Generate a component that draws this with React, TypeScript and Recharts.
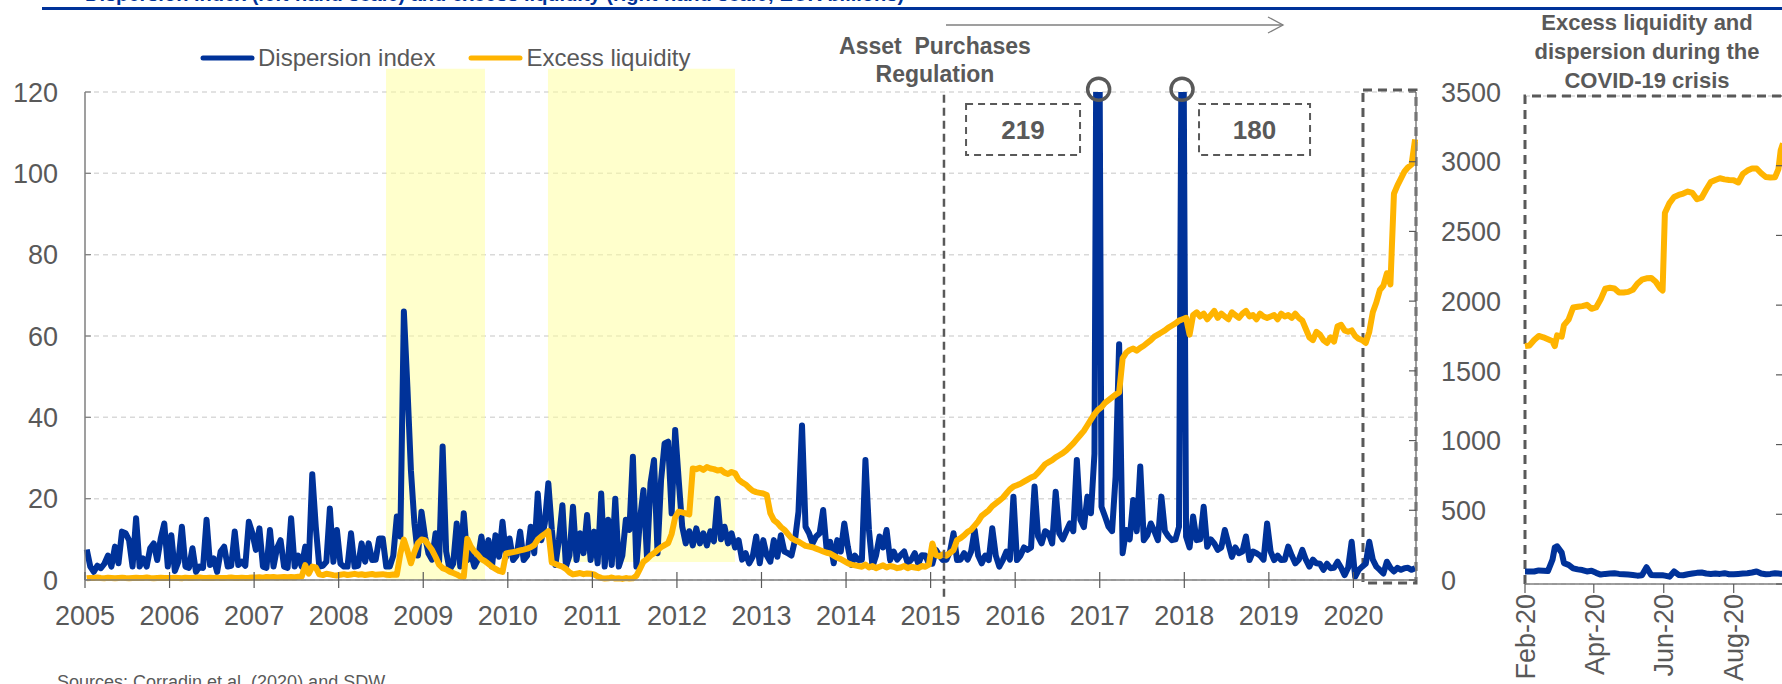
import React from 'react';
import {
  LineChart, Line, XAxis, YAxis, CartesianGrid, ReferenceArea, ReferenceLine, ReferenceDot,
} from 'recharts';

const FONT = "'Liberation Sans', Arial, Helvetica, sans-serif";
const GREY = '#595959';
const AXIS = '#7f7f7f';
const BLUE = '#003299';
const GOLD = '#FFB400';

// semi-monthly readings: slot i of a year sits at year + (i + 0.5) / 24
const disp2005 = [7.5, 3.3, 2.0, 3.5, 2.9, 4.0, 6.0, 3.3, 8.2, 4.1, 11.9, 11.5, 9.8, 3.3, 15.2, 3.3, 5.3, 3.3, 7.8, 9.0, 4.9, 10.2, 13.9, 3.3];
const disp2006 = [11.0, 2.2, 4.5, 13.1, 3.3, 3.0, 7.8, 2.0, 3.3, 3.0, 14.8, 3.7, 5.3, 2.0, 7.0, 8.2, 3.3, 3.5, 11.9, 3.7, 4.5, 3.5, 14.3, 11.5];
const disp2007 = [7.4, 12.7, 3.3, 3.0, 12.3, 3.3, 7.8, 9.8, 3.3, 3.0, 15.2, 3.3, 6.0, 3.3, 8.2, 4.0, 26.0, 13.1, 3.3, 3.5, 4.5, 17.6, 4.5, 12.3];
const disp2008 = [4.0, 3.3, 3.3, 11.5, 3.3, 3.5, 9.0, 4.5, 9.0, 4.9, 5.0, 10.2, 10.2, 3.3, 3.3, 6.0, 15.6, 10.7, 66.0, 47.5, 27.0, 13.9, 6.0, 16.8];
const disp2009 = [10.7, 6.5, 5.0, 11.5, 4.5, 32.8, 7.0, 2.5, 4.0, 13.9, 3.3, 16.4, 4.9, 6.6, 3.3, 5.0, 10.7, 4.9, 9.8, 3.3, 11.0, 5.7, 14.3, 5.7];
const disp2010 = [10.2, 4.9, 6.0, 11.9, 4.9, 6.0, 13.1, 6.6, 21.3, 9.8, 13.9, 23.8, 12.3, 3.7, 9.8, 18.4, 3.3, 6.0, 18.0, 4.9, 11.5, 6.6, 16.0, 4.9];
const disp2011 = [11.9, 4.1, 21.3, 3.3, 14.8, 3.7, 20.0, 3.3, 6.0, 14.8, 12.3, 30.3, 3.3, 14.8, 22.1, 5.7, 23.8, 29.5, 6.6, 24.6, 33.6, 34.0, 16.4, 36.9];
const disp2012 = [24.6, 13.1, 9.0, 12.0, 8.5, 12.7, 9.0, 11.5, 8.5, 12.0, 9.5, 20.0, 10.0, 13.1, 9.0, 11.5, 8.0, 9.8, 5.0, 6.6, 4.1, 5.7, 10.7, 4.1];
const disp2013 = [9.8, 6.0, 4.5, 9.8, 5.7, 11.0, 7.0, 6.6, 6.0, 9.8, 16.8, 38.0, 13.1, 11.5, 9.0, 10.7, 11.5, 17.2, 7.4, 9.4, 4.1, 9.8, 7.0, 13.9];
const disp2014 = [8.2, 3.7, 6.0, 4.9, 5.0, 29.5, 12.3, 3.3, 6.0, 10.7, 8.0, 12.3, 4.9, 7.0, 5.0, 6.1, 7.0, 4.1, 5.0, 6.6, 4.0, 6.1, 6.0, 4.1];
const disp2015 = [4.0, 7.4, 6.0, 4.9, 5.0, 7.0, 11.5, 4.9, 5.0, 6.6, 5.0, 7.0, 12.3, 6.0, 4.1, 6.0, 4.9, 12.7, 6.0, 3.3, 4.9, 7.0, 5.0, 20.5];
const disp2016 = [4.9, 6.0, 8.0, 7.4, 8.0, 23.0, 10.7, 9.0, 12.0, 11.5, 9.0, 21.7, 11.5, 10.0, 12.0, 13.9, 12.0, 29.5, 14.8, 13.0, 20.5, 16.4, 31.0, 219];
const disp2017 = [18.0, 15.6, 13.1, 12.0, 25.4, 58.0, 6.6, 12.3, 10.0, 19.7, 12.0, 27.9, 9.8, 11.0, 13.9, 12.0, 9.8, 20.5, 12.0, 10.7, 9.8, 10.0, 13.1, 180];
const disp2018 = [10.7, 8.0, 15.6, 9.8, 10.0, 18.0, 8.2, 10.0, 9.0, 7.4, 8.0, 12.3, 9.0, 5.7, 8.0, 6.6, 7.0, 10.7, 4.9, 7.0, 6.6, 6.0, 5.0, 13.9];
const disp2019 = [7.0, 4.9, 6.0, 4.9, 5.0, 8.2, 6.0, 4.1, 5.0, 7.4, 5.0, 3.3, 5.0, 4.1, 4.0, 2.5, 4.0, 2.9, 3.0, 4.5, 3.0, 1.2, 3.0, 9.4];
const disp2020 = [0.8, 2.5, 3.3, 4.0, 9.4, 5.0, 3.3, 2.5, 1.6, 4.5, 3.0, 2.1, 3.0, 2.5, 2.9, 3.0, 2.5, 2.9];

// excess liquidity, EUR bn, same slots
const ex2005 = [12, 15, 14, 18, 15, 13, 16, 14, 12, 15, 17, 14, 13, 15, 16, 14, 15, 18, 14, 13, 15, 16, 14, 15];
const ex2006 = [14, 16, 15, 13, 17, 15, 14, 16, 18, 15, 14, 16, 15, 17, 14, 15, 16, 18, 15, 14, 17, 15, 16, 18];
const ex2007 = [18, 20, 17, 22, 19, 21, 18, 20, 22, 19, 21, 20, 23, 25, 107, 45, 96, 90, 40, 35, 45, 40, 35, 32];
const ex2008 = [38, 42, 36, 40, 44, 38, 41, 36, 40, 43, 37, 40, 42, 38, 36, 40, 38, 190, 290, 210, 120, 200, 265, 290];
const ex2009 = [285, 250, 215, 165, 110, 85, 75, 60, 50, 40, 25, 22, 295, 240, 205, 180, 150, 135, 115, 95, 80, 65, 58, 190];
const ex2010 = [195, 200, 205, 212, 218, 225, 235, 250, 290, 312, 330, 350, 125, 115, 105, 96, 80, 55, 40, 45, 50, 42, 47, 45];
const ex2011 = [40, 25, 15, 10, 12, 18, 10, 12, 8, 14, 10, 12, 30, 80, 131, 150, 175, 192, 215, 235, 250, 265, 330, 450];
const ex2012 = [490, 485, 478, 470, 800, 795, 805, 790, 810, 800, 795, 785, 790, 770, 760, 775, 765, 720, 700, 685, 660, 640, 630, 625];
const ex2013 = [620, 610, 480, 430, 410, 380, 360, 330, 300, 285, 275, 260, 245, 240, 235, 225, 215, 205, 195, 190, 175, 160, 150, 135];
const ex2014 = [120, 110, 105, 100, 95, 110, 90, 100, 85, 95, 105, 90, 100, 95, 85, 90, 100, 85, 95, 90, 85, 100, 95, 110];
const ex2015 = [262, 180, 170, 185, 175, 195, 215, 286, 300, 320, 345, 360, 390, 420, 460, 480, 500, 530, 550, 570, 590, 620, 650, 670];
const ex2016 = [680, 690, 705, 720, 735, 745, 770, 800, 830, 845, 860, 880, 895, 910, 930, 955, 980, 1010, 1040, 1070, 1110, 1150, 1190, 1220];
const ex2017 = [1240, 1270, 1290, 1310, 1330, 1345, 1590, 1630, 1650, 1660, 1645, 1665, 1680, 1700, 1720, 1745, 1760, 1775, 1790, 1810, 1825, 1840, 1860, 1870];
const ex2018 = [1880, 1760, 1900, 1920, 1890, 1910, 1870, 1900, 1930, 1880, 1910, 1890, 1870, 1920, 1900, 1880, 1910, 1930, 1890, 1900, 1870, 1910, 1890, 1880];
const ex2019 = [1890, 1900, 1870, 1910, 1890, 1900, 1880, 1910, 1880, 1860, 1800, 1740, 1720, 1780, 1760, 1720, 1700, 1740, 1710, 1820, 1830, 1790, 1780, 1790];
const ex2020 = [1750, 1730, 1720, 1700, 1780, 1920, 1990, 2080, 2110, 2200, 2120, 2770, 2830, 2880, 2930, 2960, 2980, 3160];

const firstYear = 2005;
const dispersion = [disp2005, disp2006, disp2007, disp2008, disp2009, disp2010, disp2011, disp2012,
  disp2013, disp2014, disp2015, disp2016, disp2017, disp2018, disp2019, disp2020];
const excess = [ex2005, ex2006, ex2007, ex2008, ex2009, ex2010, ex2011, ex2012,
  ex2013, ex2014, ex2015, ex2016, ex2017, ex2018, ex2019, ex2020];

const yearTicks = [2005, 2006, 2007, 2008, 2009, 2010, 2011, 2012, 2013, 2014, 2015, 2016, 2017, 2018, 2019, 2020];
const leftTicks = [0, 20, 40, 60, 80, 100, 120];
const rightTicks = [0, 500, 1000, 1500, 2000, 2500, 3000, 3500];

// COVID inset, x = days from the Feb-20 tick
const insetDays = [0, 4, 8, 12, 16, 20, 24, 26, 28, 32, 34, 38, 42, 46, 50, 54, 58, 62, 66, 70,
  74, 78, 82, 86, 90, 94, 98, 102, 106, 110, 114, 118, 120, 122, 126, 130, 134, 138, 142, 146,
  150, 154, 158, 162, 166, 170, 174, 178, 182, 186, 190, 194, 198, 202, 206, 210, 214, 218, 221, 223, 225];
const insetExcess = [1755, 1760, 1800, 1830, 1820, 1805, 1790, 1755, 1834, 1825, 1910, 1950, 2040, 2045, 2050, 2060, 2030, 2040, 2100, 2178,
  2185, 2180, 2150, 2150, 2155, 2170, 2215, 2245, 2255, 2258, 2230, 2180, 2165, 2736, 2810, 2855, 2870, 2880, 2895, 2885,
  2838, 2850, 2910, 2965, 2980, 2993, 2985, 2980, 2978, 2962, 3025, 3050, 3065, 3065, 3030, 3002, 2998, 3000, 3060, 3200, 3250];
const insetDispersion = [3.6, 3.6, 3.6, 3.9, 3.8, 3.7, 7.0, 10.5, 10.8, 9.0, 6.0, 5.5, 4.5, 4.2, 4.0, 3.6, 3.8, 3.2, 2.7, 2.9,
  3.0, 3.1, 2.9, 2.8, 2.7, 2.6, 2.4, 2.5, 4.8, 2.6, 2.5, 2.5, 2.5, 2.4, 2.1, 3.6, 2.6, 2.5, 2.8, 3.0,
  3.2, 3.3, 3.0, 2.9, 3.0, 2.9, 3.1, 2.8, 2.8, 2.9, 3.0, 3.1, 3.3, 3.6, 3.0, 2.8, 2.9, 3.1, 3.0, 2.9, 3.0];
const insetTicks = [0, 60, 121, 182];
const insetTickLabels = ['Feb-20', 'Apr-20', 'Jun-20', 'Aug-20'];
const insetLeftTicks = [0, 600, 1200, 1800, 2400, 3000, 3600];
const insetRightTicks = [0, 20, 40, 60, 80, 100, 120, 140];

const mainData = dispersion.flatMap((row, k) =>
  row.map((v, i) => ({ t: firstYear + k + (i + 0.5) / 24, disp: v, excess: excess[k][i] })));
const insetData = insetDays.map((d, i) => ({ d, excess: insetExcess[i], disp: insetDispersion[i] }));

function YearTick({ x, y, payload }: any) {
  return (
    <g>
      <line x1={x} x2={x} y1={y - 8} y2={y + 8} stroke={GREY} strokeWidth={1.2} />
      <text x={x} y={y + 45} textAnchor="middle" fill={GREY} fontSize={27} fontFamily={FONT}>{payload.value}</text>
    </g>
  );
}

function LeftTick({ x, y, payload }: any) {
  return (
    <g>
      <line x1={x} x2={x + 6} y1={y} y2={y} stroke={AXIS} strokeWidth={1.2} />
      <text x={x - 27} y={y} dy="0.36em" textAnchor="end" fill={GREY} fontSize={27} fontFamily={FONT}>{payload.value}</text>
    </g>
  );
}

function RightTick({ x, y, payload }: any) {
  return (
    <g>
      <line x1={x - 7} x2={x} y1={y} y2={y} stroke={GREY} strokeWidth={1.2} />
      <text x={x + 25} y={y} dy="0.36em" textAnchor="start" fill={GREY} fontSize={27} fontFamily={FONT}>{payload.value}</text>
    </g>
  );
}

function InsetRightTick({ x, y }: any) {
  return <line x1={x - 7} x2={x} y1={y} y2={y} stroke={GREY} strokeWidth={1.2} />;
}

function MonthTick({ x, y, payload }: any) {
  const label = insetTickLabels[insetTicks.indexOf(payload.value)];
  return (
    <g>
      <line x1={x} x2={x} y1={y} y2={y + 9} stroke={GREY} strokeWidth={1.2} />
      <text transform={`rotate(-90 ${x} ${y + 10})`} x={x} y={y + 10} dy="0.36em" textAnchor="end"
        fill={GREY} fontSize={27} fontFamily={FONT}>{label}</text>
    </g>
  );
}

// only the top and left edges of the inset frame are dashed
const InsetFrame = (p: any) => (
  <path d={`M${p.x},${p.y + p.height} L${p.x},${p.y} L${p.x + p.width + 10},${p.y}`}
    fill="none" stroke={GREY} strokeWidth={3} strokeDasharray="9 6" />
);

const boxLabel = (value: string) => ({ value, position: 'center' as const, fill: GREY, fontSize: 26, fontWeight: 700, fontFamily: FONT });

export default function App() {
  return (
    <div style={{ position: 'fixed', left: 0, top: 0, width: 1782, height: 684, overflow: 'hidden', background: '#fff', fontFamily: FONT, color: GREY }}>
      <div style={{ position: 'absolute', left: 0, top: 0 }}>
        <LineChart width={1520} height={684} data={mainData} margin={{ top: 92, right: 0, bottom: 0, left: 0 }}>
          <XAxis dataKey="t" type="number" domain={[2005, 2020.74]} ticks={yearTicks} interval={0}
            height={104} tickSize={0} tickMargin={0} tickLine={false} tick={<YearTick />}
            axisLine={{ stroke: AXIS, strokeWidth: 1.5 }} />
          <YAxis yAxisId="left" domain={[0, 120]} ticks={leftTicks} interval={0} allowDataOverflow width={85}
            tickSize={0} tickMargin={0} tickLine={false} tick={<LeftTick />} axisLine={{ stroke: AXIS, strokeWidth: 1.5 }} />
          <YAxis yAxisId="right" orientation="right" domain={[0, 3500]} ticks={rightTicks} interval={0} width={104}
            tickSize={0} tickMargin={0} tickLine={false} tick={<RightTick />} axisLine={{ stroke: AXIS, strokeWidth: 1.5 }} />
          <ReferenceArea yAxisId="left" x1={2008.56} x2={2009.73} y1={0} y2={125.7} ifOverflow="visible"
            fill="#FFFF99" fillOpacity={0.5} stroke="none" />
          <ReferenceArea yAxisId="left" x1={2010.475} x2={2012.687} y1={4.4} y2={125.7} ifOverflow="visible"
            fill="#FFFF99" fillOpacity={0.5} stroke="none" />
          <CartesianGrid yAxisId="left" vertical={false} stroke="#d9d9d9" strokeDasharray="5 4" strokeWidth={1.5} />
          <Line yAxisId="left" dataKey="disp" stroke={BLUE} strokeWidth={6} dot={false} strokeLinejoin="round" isAnimationActive={false} />
          <Line yAxisId="right" dataKey="excess" stroke={GOLD} strokeWidth={6} dot={false} strokeLinejoin="round" isAnimationActive={false} />
          <ReferenceLine yAxisId="left" ifOverflow="visible" stroke={GREY} strokeWidth={2.5} strokeDasharray="8 5"
            segment={[{ x: 2015.158, y: 119.3 }, { x: 2015.158, y: -4.2 }]} />
          <ReferenceArea yAxisId="left" x1={2015.419} x2={2016.767} y1={104.5} y2={117.05} ifOverflow="visible"
            fill="none" stroke={GREY} strokeWidth={2} strokeDasharray="7 5" label={boxLabel('219')} />
          <ReferenceArea yAxisId="left" x1={2018.174} x2={2019.487} y1={104.5} y2={117.05} ifOverflow="visible"
            fill="none" stroke={GREY} strokeWidth={2} strokeDasharray="7 5" label={boxLabel('180')} />
          <ReferenceDot yAxisId="left" x={2016.987} y={120.7} r={11} ifOverflow="visible" fill="none" stroke={GREY} strokeWidth={3.5} />
          <ReferenceDot yAxisId="left" x={2017.973} y={120.7} r={11} ifOverflow="visible" fill="none" stroke={GREY} strokeWidth={3.5} />
          <ReferenceArea yAxisId="left" x1={2020.113} x2={2020.74} y1={-0.74} y2={120.5} ifOverflow="visible"
            fill="none" stroke={GREY} strokeWidth={3} strokeDasharray="9 6" />
        </LineChart>
      </div>

      <div style={{ position: 'absolute', left: 1495, top: 0 }}>
        <LineChart width={330} height={684} data={insetData} margin={{ top: 96, right: 0, bottom: 0, left: 30 }}>
          <XAxis dataKey="d" type="number" domain={[0, 225]} ticks={insetTicks} interval={0} height={100}
            tickSize={0} tickMargin={0} tickLine={false} tick={<MonthTick />} axisLine={{ stroke: AXIS, strokeWidth: 1.5 }} />
          <YAxis yAxisId="l" domain={[0, 3600]} ticks={insetLeftTicks} interval={0} width={0}
            tick={false} tickLine={false} axisLine={false} />
          <YAxis yAxisId="r" orientation="right" domain={[0, 140]} ticks={insetRightTicks} interval={0} width={42}
            tickSize={0} tickMargin={0} tickLine={false} tick={<InsetRightTick />} axisLine={{ stroke: AXIS, strokeWidth: 1.5 }} />
          <CartesianGrid yAxisId="l" vertical={false} stroke="#d9d9d9" strokeDasharray="5 4" strokeWidth={1.5} />
          <Line yAxisId="r" dataKey="disp" stroke={BLUE} strokeWidth={6} dot={false} strokeLinejoin="round" isAnimationActive={false} />
          <Line yAxisId="l" dataKey="excess" stroke={GOLD} strokeWidth={6} dot={false} strokeLinejoin="round" isAnimationActive={false} />
          <ReferenceArea yAxisId="l" x1={0} x2={225} y1={0} y2={3600} ifOverflow="visible" shape={<InsetFrame />} />
        </LineChart>
      </div>

      {/* header rule and clipped figure title */}
      <div style={{ position: 'absolute', left: 42, top: 7, width: 1740, height: 3, background: BLUE }} />
      <div style={{ position: 'absolute', left: 85, top: -16, fontSize: 20, lineHeight: '20px', fontWeight: 700, color: BLUE, whiteSpace: 'nowrap' }}>
        Dispersion index (left-hand scale) and excess liquidity (right-hand scale; EUR billions)
      </div>

      {/* legend */}
      <div style={{ position: 'absolute', left: 200, top: 44, height: 28, display: 'flex', alignItems: 'center', fontSize: 24, lineHeight: '28px', whiteSpace: 'nowrap' }}>
        <svg width={55} height={28}><line x1={3} x2={52} y1={14} y2={14} stroke={BLUE} strokeWidth={5} strokeLinecap="round" /></svg>
        <span style={{ marginLeft: 3 }}>Dispersion index</span>
        <svg width={55} height={28} style={{ marginLeft: 33 }}><line x1={3} x2={52} y1={14} y2={14} stroke={GOLD} strokeWidth={5} strokeLinecap="round" /></svg>
        <span style={{ marginLeft: 3 }}>Excess liquidity</span>
      </div>

      {/* APP annotation */}
      <div style={{ position: 'absolute', left: 785, top: 32, width: 300, textAlign: 'center', fontSize: 23, lineHeight: '28px', fontWeight: 700, whiteSpace: 'pre' }}>
        {'Asset  Purchases\nRegulation'}
      </div>
      <svg style={{ position: 'absolute', left: 0, top: 0 }} width={1782} height={684} pointerEvents="none">
        <line x1={946} x2={1283} y1={25} y2={25} stroke={AXIS} strokeWidth={1.3} />
        <polyline points="1268,17 1283,25 1268,33" fill="none" stroke={AXIS} strokeWidth={1.3} />
      </svg>

      {/* inset title */}
      <div style={{ position: 'absolute', left: 1497, top: 8, width: 300, textAlign: 'center', fontSize: 22, lineHeight: '29px', fontWeight: 700 }}>
        Excess liquidity and<br />dispersion during the<br />COVID-19 crisis
      </div>

      <div style={{ position: 'absolute', left: 57, top: 671, fontSize: 18, lineHeight: '22px', whiteSpace: 'nowrap' }}>
        Sources: Corradin et al. (2020) and SDW.
      </div>
    </div>
  );
}
